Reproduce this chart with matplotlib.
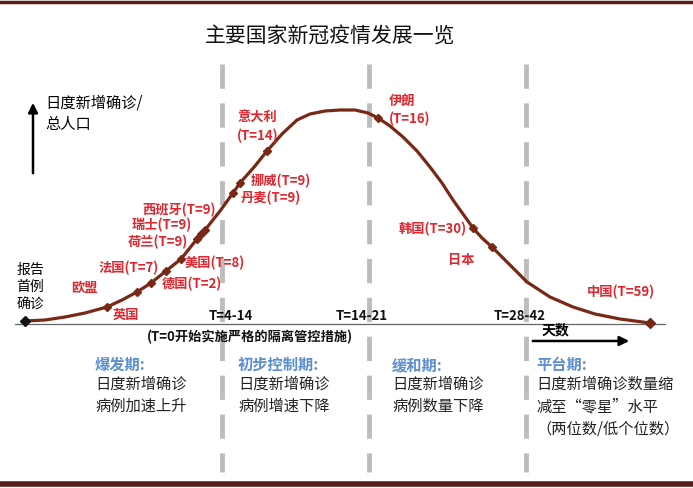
import matplotlib.pyplot as plt

plt.rcParams['font.family'] = ['Noto Sans CJK SC', 'DejaVu Sans']

# curve (x = time axis, y = level, picture units, y grows downward)
curve_x = [25, 45, 65, 85, 107, 122, 137, 151, 166, 181, 197, 205, 220, 233, 240, 255, 267,
           282, 297, 310, 325, 340, 355, 368, 378, 390, 403, 417, 430, 442, 453, 463, 473,
           482, 492, 510, 527, 550, 573, 595, 620, 650]
curve_y = [321, 320, 317, 313, 307, 300, 292, 283, 271, 259, 239, 230, 211, 193, 183, 166, 151,
           134, 120, 114, 111, 110, 110, 113, 118, 126, 137, 151, 167, 183, 200, 214, 228,
           238, 247, 265, 282, 297, 307, 314, 319, 323]

# countries on the curve
mark_x = [107, 137, 151, 166, 181, 197, 201, 205, 233, 240, 267, 378, 473, 492]
mark_y = [307, 292, 283, 271, 259, 239, 234, 230, 193, 183, 151, 118, 228, 247]

# country labels
lab_text = ['欧盟', '英国', '法国(T=7)', '德国(T=2)', '美国(T=8)', '荷兰(T=9)', '瑞士(T=9)',
            '西班牙(T=9)', '丹麦(T=9)', '挪威(T=9)', '意大利\n(T=14)', '伊朗\n(T=16)',
            '韩国(T=30)', '日本', '中国(T=59)']
lab_x = [71, 113, 99, 162, 185, 128, 132, 142, 241, 251, 237, 389, 399, 448, 587]
lab_y = [288, 315, 268, 284, 263, 242, 225, 210, 198, 181, 127, 110, 229, 260, 292]

# phase boundaries
phase_x = [222, 369, 526]
phase_lbl = ['T=4-14', 'T=14-21', 'T=28-42']
phase_lbl_x = [231, 362, 520]

stage_x = [95, 238, 392, 536]
stage_title = ['爆发期:', '初步控制期:', '缓和期:', '平台期:']
stage_desc = ['日度新增确诊\n病例加速上升', '日度新增确诊\n病例增速下降',
              '日度新增确诊\n病例数量下降', '日度新增确诊数量缩\n减至“零星”水平\n（两位数/低个位数）']

red = '#e0262e'
brown = '#7a2816'
blue = '#5b8fcf'

fig = plt.figure(figsize=(6.93, 4.88), dpi=100)
ax = fig.add_axes([0, 0, 1, 1])
ax.set_xlim(0, 693)
ax.set_ylim(488, 0)
ax.axis('off')

# frame lines
ax.axhline(2, color='#5a1c1c', lw=2.5)
ax.axhline(484, color='#5a1c1c', lw=4)

ax.text(330, 36, '主要国家新冠疫情发展一览', fontsize=15, ha='center', va='center', color='#111111')

for x in phase_x:
    ax.plot([x, x], [64, 472], color='#bdbdbd', lw=3.5, ls=(0, (5, 3)))

# baseline
ax.plot([15, 665], [324, 324], color='#666666', lw=0.9)

ax.plot(curve_x, curve_y, color=brown, lw=2.3, solid_capstyle='round', solid_joinstyle='round')
ax.plot(mark_x, mark_y, 'D', color=brown, ms=4.5, ls='none')
ax.plot([curve_x[0]], [curve_y[0]], 'D', color='#111111', ms=5.5)
ax.plot([curve_x[-1]], [curve_y[-1]], 'D', color=brown, ms=5.5)

for t, x, y in zip(lab_text, lab_x, lab_y):
    ax.text(x, y, t, color=red, fontsize=9.5, fontweight='bold', ha='left', va='center', linespacing=1.35)

for t, x in zip(phase_lbl, phase_lbl_x):
    ax.text(x, 316, t, fontsize=9.5, fontweight='bold', ha='center', va='center', color='#111111')

ax.text(250, 337, '(T=0开始实施严格的隔离管控措施)', fontsize=9.5, fontweight='bold',
        ha='center', va='center', color='#111111')

# y arrow
ax.annotate('', xy=(33, 100), xytext=(33, 176),
            arrowprops=dict(arrowstyle='-|>', color='black', lw=1.8, mutation_scale=14))
ax.text(45, 103, '日度新增确诊/', fontsize=11, va='center', ha='left')
ax.text(45, 124, '总人口', fontsize=11, va='center', ha='left')
ax.text(30, 287, '报告\n首例\n确诊', fontsize=10, ha='center', va='center', linespacing=1.3)

# x arrow
ax.annotate('', xy=(632, 341), xytext=(530, 341),
            arrowprops=dict(arrowstyle='-|>', color='black', lw=1.8, mutation_scale=14))
ax.text(542, 330, '天数', fontsize=10, fontweight='bold', va='center', ha='left')

for x, t, d in zip(stage_x, stage_title, stage_desc):
    ax.text(x, 365, t, fontsize=11, fontweight='bold', color=blue, va='center', ha='left')
    ax.text(x, 376, d, fontsize=11, va='top', ha='left', linespacing=1.4, color='#222222')

fig.savefig('out.png', dpi=100)
